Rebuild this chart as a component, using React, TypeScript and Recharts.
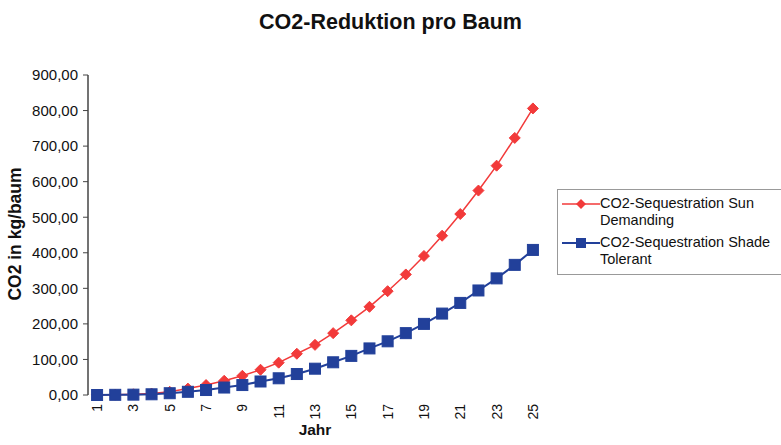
import React from 'react';
import { LineChart, Line, XAxis, YAxis, Legend } from 'recharts';

const years = [1, 2, 3, 4, 5, 6, 7, 8, 9, 10, 11, 12, 13, 14, 15, 16, 17, 18, 19, 20, 21, 22, 23, 24, 25];
const sunDemanding = [0.5, 1, 2, 4, 9, 18, 28, 40, 54, 71, 91, 116, 141, 174, 210, 248, 292, 339, 391, 448, 509, 575, 645, 723, 806];
const shadeTolerant = [0, 0.5, 1, 2, 5, 9, 14, 21, 28, 38, 47, 59, 74, 92, 110, 131, 151, 174, 200, 229, 259, 294, 328, 366, 408];
const yTicks = [0, 100, 200, 300, 400, 500, 600, 700, 800, 900];
const xLabelTicks = [1, 3, 5, 7, 9, 11, 13, 15, 17, 19, 21, 23, 25];
const xBoundaryTicks = [0.5, 1.5, 2.5, 3.5, 4.5, 5.5, 6.5, 7.5, 8.5, 9.5, 10.5, 11.5, 12.5, 13.5, 14.5, 15.5, 16.5, 17.5, 18.5, 19.5, 20.5, 21.5, 22.5, 23.5, 24.5, 25.5];

const seriesNames = ['CO2-Sequestration Sun Demanding', 'CO2-Sequestration Shade Tolerant'];
const title = 'CO2-Reduktion pro Baum';
const xTitle = 'Jahr';
const yTitle = 'CO2 in kg/baum';

const RED = '#f23a3a';
const BLUE = '#22409a';
const FONT = '"Liberation Sans", Arial, sans-serif';

const data = years.map((y, i) => ({ year: y, sun: sunDemanding[i], shade: shadeTolerant[i] }));

const fmt = (v: number) => v.toFixed(2).replace('.', ',');

const Diamond = (props: any) => {
  const { cx, cy } = props;
  if (cx == null || cy == null) return null;
  const s = 5.5;
  return <polygon points={`${cx},${cy - s} ${cx + s},${cy} ${cx},${cy + s} ${cx - s},${cy}`} fill={RED} stroke={RED} />;
};

const Square = (props: any) => {
  const { cx, cy } = props;
  if (cx == null || cy == null) return null;
  const s = 5.5;
  return <rect x={cx - s} y={cy - s} width={2 * s} height={2 * s} fill={BLUE} stroke={BLUE} />;
};

const XTick = (props: any) => {
  const { x, y, payload } = props;
  return (
    <text x={x} y={y} transform={`rotate(-90, ${x}, ${y})`} textAnchor="end" dy="0.36em" fontSize={14} fill="#111" fontFamily={FONT}>
      {payload.value}
    </text>
  );
};

const YTitle = () => (
  <text x={15} y={234} transform="rotate(-90, 15, 234)" textAnchor="middle" dominantBaseline="central" fontSize={17.5} fontWeight="bold" fill="#111" fontFamily={FONT}>
    {yTitle}
  </text>
);

const LegendContent = () => {
  const items = [
    { name: seriesNames[0], color: RED, shape: 'diamond' },
    { name: seriesNames[1], color: BLUE, shape: 'square' },
  ];
  return (
    <div style={{ border: '1px solid #999', width: 240, height: 86, boxSizing: 'border-box', padding: '5px 0 0 4px', background: '#fff', fontFamily: FONT, fontSize: 14.5, color: '#111' }}>
      {items.map((it, i) => {
        const words = it.name.split(' ');
        const first = words.slice(0, 2).join(' ');
        const second = words.slice(2).join(' ');
        return (
          <div key={i} style={{ display: 'flex', alignItems: 'flex-start', marginBottom: i === 0 ? 5 : 0 }}>
            <svg width={38} height={17} style={{ flex: 'none' }}>
              <line x1={0} y1={9} x2={38} y2={9} stroke={it.color} strokeWidth={it.shape === 'square' ? 2 : 1.5} />
              {it.shape === 'diamond' ? (
                <polygon points="19,4 24,9 19,14 14,9" fill={it.color} />
              ) : (
                <rect x={14} y={4} width={10} height={10} fill={it.color} />
              )}
            </svg>
            <div style={{ lineHeight: '17px' }}>
              <div style={{ whiteSpace: 'nowrap' }}>{first}</div>
              <div style={{ whiteSpace: 'nowrap' }}>{second}</div>
            </div>
          </div>
        );
      })}
    </div>
  );
};

export default function App() {
  return (
    <div style={{ position: 'absolute', left: 0, top: 0, width: 781, height: 445, background: '#fff', overflow: 'hidden', fontFamily: FONT }}>
      <div style={{ position: 'absolute', left: 0, width: 781, top: 10, textAlign: 'center', fontSize: 21.5, fontWeight: 'bold', color: '#111', fontFamily: FONT }}>
        {title}
      </div>
      <LineChart width={781} height={445} data={data} margin={{ top: 75, right: 239, left: 0, bottom: 0 }}>
        <XAxis
          xAxisId="b"
          dataKey="year"
          type="number"
          domain={[0.5, 25.5]}
          ticks={xBoundaryTicks}
          tick={false}
          tickSize={4}
          tickLine={{ stroke: '#444' }}
          axisLine={{ stroke: '#444', strokeWidth: 1.5 }}
          height={0}
          allowDataOverflow
        />
        <XAxis
          xAxisId="lab"
          dataKey="year"
          type="number"
          domain={[0.5, 25.5]}
          ticks={xLabelTicks}
          tick={<XTick />}
          tickLine={false}
          axisLine={false}
          tickSize={0}
          tickMargin={9}
          height={50}
          interval={0}
          label={{ value: xTitle, position: 'insideBottom', offset: 10, fontSize: 15.5, fontWeight: 'bold', fill: '#111', fontFamily: FONT }}
        />
        <XAxis xAxisId="top" orientation="top" type="number" domain={[0.5, 25.5]} tick={false} tickLine={false} axisLine={{ stroke: '#999' }} height={0} />
        <YAxis
          yAxisId="l"
          domain={[0, 900]}
          ticks={yTicks}
          tickFormatter={fmt}
          width={88}
          tickSize={5}
          tickMargin={5}
          tick={{ fontSize: 15, fill: '#111', fontFamily: FONT }}
          tickLine={{ stroke: '#444' }}
          axisLine={{ stroke: '#444', strokeWidth: 1.5 }}
          interval={0}
          label={<YTitle />}
        />
        <YAxis yAxisId="r" orientation="right" domain={[0, 900]} tick={false} tickLine={false} axisLine={{ stroke: '#999' }} width={0} />
        <Legend
          layout="horizontal"
          verticalAlign="middle"
          align="center"
          content={<LegendContent />}
          wrapperStyle={{ position: 'absolute', left: 557, top: 189, width: 240 }}
        />
        <Line xAxisId="b" yAxisId="l" dataKey="sun" name={seriesNames[0]} stroke={RED} strokeWidth={1.5} dot={<Diamond />} isAnimationActive={false} />
        <Line xAxisId="b" yAxisId="l" dataKey="shade" name={seriesNames[1]} stroke={BLUE} strokeWidth={2} dot={<Square />} isAnimationActive={false} />
      </LineChart>
    </div>
  );
}
